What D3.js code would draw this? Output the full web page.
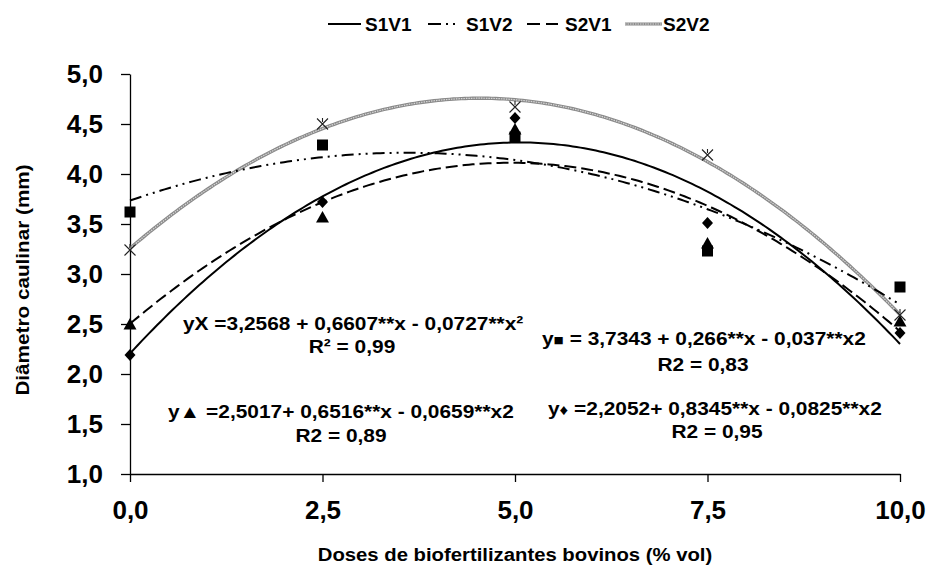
<!DOCTYPE html>
<html>
<head>
<meta charset="utf-8">
<script src="https://cdn.jsdelivr.net/npm/d3@7"></script>
<style>
  html, body { margin: 0; padding: 0; background: #fff; }
  svg { display: block; font-family: "Liberation Sans", Arial, Helvetica, sans-serif; font-weight: bold; }
</style>
</head>
<body>
<svg id="chart" width="930" height="565"></svg>
<script>
// Doses (% vol) and measured stem diameter (mm) for each treatment
const doses = [0, 2.5, 5, 7.5, 10];
const s1v1 = [2.19, 3.72, 4.56, 3.51, 2.41];
const s1v2 = [3.62, 4.29, 4.37, 3.23, 2.87];
const s2v1 = [2.50, 3.57, 4.45, 3.31, 2.53];
const s2v2 = [3.24, 4.50, 4.67, 4.19, 2.59];

// Quadratic fits y = a + b·x + c·x²
const fitS1V1 = [2.2052, 0.8345, -0.0825];
const fitS1V2 = [3.7343, 0.266, -0.037];
const fitS2V1 = [2.5017, 0.6516, -0.0659];
const fitS2V2 = [3.2568, 0.6607, -0.0727];

const seriesNames = ["S1V1", "S1V2", "S2V1", "S2V2"];
const xTickValues = [0, 2.5, 5, 7.5, 10];
const xTickLabels = ["0,0", "2,5", "5,0", "7,5", "10,0"];
const yTickValues = [1, 1.5, 2, 2.5, 3, 3.5, 4, 4.5, 5];
const yTickLabels = ["1,0", "1,5", "2,0", "2,5", "3,0", "3,5", "4,0", "4,5", "5,0"];

const svg = d3.select("#chart");
const x = d3.scaleLinear().domain([0, 10]).range([130, 900]);
const y = d3.scaleLinear().domain([1, 5]).range([474, 74]);

// Horizontally stretched text helper
function label(parent, tx, ty, str, size, sx, anchor) {
  const g = parent.append("g").attr("transform", `translate(${tx},${ty})`);
  return g.append("text")
    .attr("transform", `scale(${sx},1)`)
    .attr("font-size", size)
    .attr("text-anchor", anchor || "start")
    .attr("fill", "#000")
    .text(str);
}

// Axes
const yAxis = d3.axisLeft(y).tickValues(yTickValues)
  .tickFormat((d, i) => yTickLabels[i]).tickSize(9).tickSizeOuter(0).tickPadding(18);
const gy = svg.append("g").attr("transform", "translate(130,0)").call(yAxis);
gy.selectAll("text").attr("font-size", 26).attr("font-weight", "bold").attr("fill", "#000")
  .attr("font-family", "Liberation Sans, Arial, sans-serif");

const xAxis = d3.axisBottom(x).tickValues(xTickValues)
  .tickFormat((d, i) => xTickLabels[i]).tickSize(8).tickSizeOuter(0);
const gx = svg.append("g").attr("transform", "translate(0,474)").call(xAxis);
gx.selectAll("text").attr("font-size", 26).attr("font-weight", "bold").attr("fill", "#000")
  .attr("font-family", "Liberation Sans, Arial, sans-serif")
  .attr("y", 45).attr("dy", 0);
svg.selectAll(".domain, .tick line").attr("stroke", "#000").attr("stroke-width", 1.3);

// Axis titles
label(svg, 515, 561, "Doses de biofertilizantes bovinos (% vol)", 17.5, 1.16, "middle");
const yt = svg.append("g").attr("transform", "translate(29,280) rotate(-90)");
yt.append("text").attr("transform", "scale(1.12,1)").attr("font-size", 18.5)
  .attr("text-anchor", "middle").text("Diâmetro caulinar (mm)");

// Fitted curves
const xs = d3.range(0, 10.001, 0.05);
const curveLine = coef => d3.line()
  .x(d => x(d))
  .y(d => y(coef[0] + coef[1] * d + coef[2] * d * d))(xs);

// S2V2: textured grey line
svg.append("path").attr("d", curveLine(fitS2V2)).attr("fill", "none")
  .attr("stroke", "#8a8a8a").attr("stroke-width", 3.4);
svg.append("path").attr("d", curveLine(fitS2V2)).attr("fill", "none")
  .attr("stroke", "#d8d8d8").attr("stroke-width", 1.2).attr("stroke-dasharray", "1.5 1");

// S1V2: dash-dot-dot
svg.append("path").attr("d", curveLine(fitS1V2)).attr("fill", "none")
  .attr("stroke", "#000").attr("stroke-width", 2).attr("stroke-dasharray", "12 5 2 5 2 5");
// S2V1: dashed
svg.append("path").attr("d", curveLine(fitS2V1)).attr("fill", "none")
  .attr("stroke", "#000").attr("stroke-width", 2).attr("stroke-dasharray", "12 5");
// S1V1: solid
svg.append("path").attr("d", curveLine(fitS1V1)).attr("fill", "none")
  .attr("stroke", "#000").attr("stroke-width", 2);

// Markers
const pts = (vals) => doses.map((d, i) => [x(d), y(vals[i])]);
svg.append("g").selectAll("rect").data(pts(s1v2)).join("rect")
  .attr("x", d => d[0] - 5.5).attr("y", d => d[1] - 5.5)
  .attr("width", 11).attr("height", 11).attr("fill", "#000");
svg.append("g").selectAll("path").data(pts(s2v1)).join("path")
  .attr("d", d => `M${d[0]},${d[1] - 6}L${d[0] + 6.5},${d[1] + 5.5}L${d[0] - 6.5},${d[1] + 5.5}Z`)
  .attr("fill", "#000");
svg.append("g").selectAll("path").data(pts(s1v1)).join("path")
  .attr("d", d => `M${d[0]},${d[1] - 6}L${d[0] + 5.5},${d[1]}L${d[0]},${d[1] + 6}L${d[0] - 5.5},${d[1]}Z`)
  .attr("fill", "#000");
svg.append("g").selectAll("path").data(pts(s2v2)).join("path")
  .attr("d", d => `M${d[0] - 5.5},${d[1] - 5.5}L${d[0] + 5.5},${d[1] + 5.5}M${d[0] + 5.5},${d[1] - 5.5}L${d[0] - 5.5},${d[1] + 5.5}M${d[0]},${d[1] - 6}L${d[0]},${d[1] - 2}`)
  .attr("fill", "none").attr("stroke", "#222").attr("stroke-width", 1.1);

// Regression equations
const fmt = v => String(v).replace(".", ",");
const eqSize = 18.5, eqScale = 1.13;
label(svg, 183, 330, `yX =${fmt(fitS2V2[0])} + ${fmt(fitS2V2[1])}**x - ${fmt(-fitS2V2[2])}**x²`, eqSize, eqScale);
label(svg, 352, 353, "R² = 0,99", eqSize, eqScale, "middle");

label(svg, 168, 418, `y▲ =${fmt(fitS2V1[0])}+ ${fmt(fitS2V1[1])}**x - ${fmt(-fitS2V1[2])}**x2`, eqSize, eqScale);
label(svg, 341, 442, "R2 = 0,89", eqSize, eqScale, "middle");

const sq = label(svg, 542, 345, "", eqSize, eqScale);
sq.append("tspan").text("y");
sq.append("tspan").attr("font-size", 15).text("■");
sq.append("tspan").text(` = ${fmt(fitS1V2[0])} + ${fmt(fitS1V2[1])}**x - ${fmt(-fitS1V2[2])}**x2`);
label(svg, 703, 371, "R2 = 0,83", eqSize, eqScale, "middle");

const dm = label(svg, 548, 415, "", eqSize, eqScale);
dm.append("tspan").text("y");
dm.append("tspan").attr("font-size", 15).text("♦");
dm.append("tspan").text(` =${fmt(fitS1V1[0])}+ ${fmt(fitS1V1[1])}**x - ${fmt(-fitS1V1[2])}**x2`);
label(svg, 717, 438, "R2 = 0,95", eqSize, eqScale, "middle");

// Legend
const legend = svg.append("g");
const legendItems = [
  { name: seriesNames[0], x1: 328, x2: 361, tx: 365, dash: null, grey: false },
  { name: seriesNames[1], x1: 428, x2: 457, tx: 466, dash: "13 5 2 5 2 5", grey: false },
  { name: seriesNames[2], x1: 527, x2: 558, tx: 565, dash: "13 6", grey: false },
  { name: seriesNames[3], x1: 625, x2: 662, tx: 663, dash: null, grey: true }
];
legendItems.forEach(it => {
  if (it.grey) {
    legend.append("line").attr("x1", it.x1).attr("x2", it.x2).attr("y1", 24).attr("y2", 24)
      .attr("stroke", "#8a8a8a").attr("stroke-width", 3);
    legend.append("line").attr("x1", it.x1).attr("x2", it.x2).attr("y1", 24).attr("y2", 24)
      .attr("stroke", "#d8d8d8").attr("stroke-width", 1).attr("stroke-dasharray", "1.5 1");
  } else {
    legend.append("line").attr("x1", it.x1).attr("x2", it.x2).attr("y1", 24).attr("y2", 24)
      .attr("stroke", "#000").attr("stroke-width", 2).attr("stroke-dasharray", it.dash);
  }
  legend.append("text").attr("x", it.tx).attr("y", 31).attr("font-size", 19).text(it.name);
});
</script>
</body>
</html>
